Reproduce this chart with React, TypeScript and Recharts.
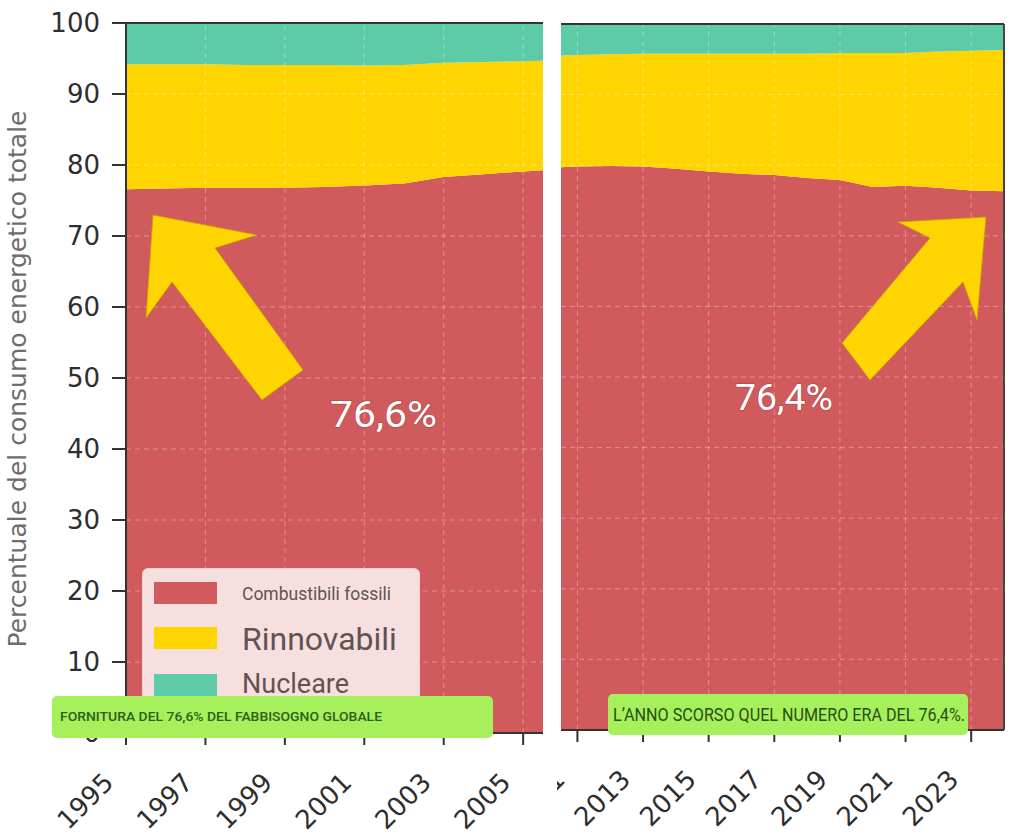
import React from 'react';
import { AreaChart, Area, XAxis, YAxis, ReferenceLine, Legend } from 'recharts';

// Quota del consumo energetico totale (%), per anno
const earlyYears = [1995, 1996, 1997, 1998, 1999, 2000, 2001, 2002, 2003, 2004, 2005, 2006];
const earlyFossil = [76.6, 76.7, 76.8, 76.8, 76.8, 76.9, 77.1, 77.4, 78.3, 78.7, 79.1, 79.4];
const earlyRenewable = [17.6, 17.5, 17.4, 17.3, 17.3, 17.2, 16.9, 16.7, 16.1, 15.8, 15.5, 15.4];
const earlyNuclear = [5.8, 5.8, 5.8, 5.9, 5.9, 5.9, 6.0, 5.9, 5.6, 5.5, 5.4, 5.2];

const lateYears = [2010, 2011, 2012, 2013, 2014, 2015, 2016, 2017, 2018, 2019, 2020, 2021, 2022, 2023, 2024];
const lateFossil = [79.6, 79.8, 79.9, 79.8, 79.5, 79.1, 78.8, 78.6, 78.2, 77.9, 76.9, 77.1, 76.8, 76.4, 76.3];
const lateRenewable = [15.9, 15.8, 15.8, 16.0, 16.3, 16.7, 17.0, 17.2, 17.6, 18.0, 19.0, 18.8, 19.3, 19.8, 20.0];
const lateNuclear = [4.5, 4.4, 4.3, 4.2, 4.2, 4.2, 4.2, 4.2, 4.2, 4.1, 4.1, 4.1, 3.9, 3.8, 3.7];

const earlyTicks = [1995, 1997, 1999, 2001, 2003, 2005];
const lateTicks = [2011, 2013, 2015, 2017, 2019, 2021, 2023];
const pctTicks = [0, 10, 20, 30, 40, 50, 60, 70, 80, 90, 100];
const gridPct = [10, 20, 30, 40, 50, 60, 70, 80, 90];

const seriesKeys = ['fossil', 'renew', 'nuclear'];
const seriesNames = ['Combustibili fossili', 'Rinnovabili', 'Nucleare'];
const yLabel = 'Percentuale del consumo energetico totale';
const highlightYearLate = 2023;

const COLORS: Record<string, string> = {
  fossil: '#d15a5c',
  renew: '#fed500',
  nuclear: '#5ecba8',
};

const rowsOf = (years: number[], f: number[], r: number[], n: number[]) =>
  years.map((year, i) => ({ year, fossil: f[i], renew: r[i], nuclear: n[i] }));

const earlyRows = rowsOf(earlyYears, earlyFossil, earlyRenewable, earlyNuclear);
const lateRows = rowsOf(lateYears, lateFossil, lateRenewable, lateNuclear);

const fmtPct = (v: number) => `${v.toFixed(1).replace('.', ',')}%`;
const firstShare = fmtPct(earlyFossil[0]);
const lastShare = fmtPct(lateFossil[lateYears.indexOf(highlightYearLate)]);

const AXIS = '#333';
const GRID = 'rgba(255,255,255,0.33)';

const YearTick = (props: any) => {
  const { x, y, payload } = props;
  const ax = x - 11;
  const ay = y + 37;
  return (
    <text
      x={ax}
      y={ay}
      transform={`rotate(-45 ${ax} ${ay})`}
      textAnchor="end"
      fontFamily="DejaVu Sans"
      fontSize={26}
      fill="#2e2e2e"
    >
      {payload.value}
    </text>
  );
};

// legend rows: swatch top, text baseline, font size
const legendRows = [
  { top: 13, base: 31, size: 17.5 },
  { top: 58, base: 81, size: 32 },
  { top: 105, base: 124, size: 27 },
];

const LegendBox = (props: any) => {
  const payload = [...(props.payload || [])].sort(
    (a: any, b: any) => seriesKeys.indexOf(String(a.dataKey)) - seriesKeys.indexOf(String(b.dataKey)),
  );
  return (
    <div
      style={{
        width: 278,
        height: 140,
        background: '#f7dfdf',
        borderRadius: 6,
        border: '1px solid #f3d2d2',
        boxSizing: 'border-box',
      }}
    >
      <svg width={278} height={140} style={{ display: 'block' }}>
        {payload.map((entry: any, i: number) => {
          const row = legendRows[i] || legendRows[legendRows.length - 1];
          return (
            <g key={String(entry.dataKey)}>
              <rect x={11} y={row.top} width={63} height={22} fill={COLORS[entry.dataKey] || entry.color} />
              <text x={99} y={row.base} fontFamily="Roboto" fontSize={row.size} fill="#625252">
                {entry.value}
              </text>
            </g>
          );
        })}
      </svg>
    </div>
  );
};

const seriesAreas = () =>
  seriesKeys.map((key, i) => (
    <Area
      key={key}
      dataKey={key}
      name={seriesNames[i]}
      stackId="mix"
      type="linear"
      fill={COLORS[key]}
      fillOpacity={1}
      stroke="none"
      isAnimationActive={false}
      activeDot={false}
    />
  ));

const gridLines = (xs: number[]) => [
  ...xs.map((v) => (
    <ReferenceLine key={`gx${v}`} x={v} stroke={GRID} strokeDasharray="5 4" strokeWidth={1} />
  )),
  ...gridPct.map((v) => (
    <ReferenceLine key={`gy${v}`} y={v} stroke={GRID} strokeDasharray="5 4" strokeWidth={1} />
  )),
];

function EarlyPanel() {
  return (
    <AreaChart width={560} height={835} data={earlyRows} margin={{ top: 23, right: 17, bottom: 0, left: 0 }}>
      <XAxis
        dataKey="year"
        type="number"
        domain={[1995, 2005.5]}
        allowDataOverflow
        ticks={earlyTicks}
        interval={0}
        tick={<YearTick />}
        tickSize={12}
        tickLine={{ stroke: AXIS, strokeWidth: 2 }}
        axisLine={{ stroke: AXIS, strokeWidth: 2 }}
        height={102}
      />
      <YAxis
        type="number"
        domain={[0, 100]}
        allowDataOverflow
        ticks={pctTicks}
        interval={0}
        width={126}
        tickSize={14}
        tickMargin={12}
        tick={{ fontFamily: 'DejaVu Sans', fontSize: 26, fill: '#2e2e2e' }}
        tickLine={{ stroke: AXIS, strokeWidth: 2 }}
        axisLine={{ stroke: AXIS, strokeWidth: 2 }}
      />
      {seriesAreas()}
      {gridLines(earlyTicks.slice(1))}
      <ReferenceLine y={100} stroke={AXIS} strokeWidth={2} />
      <Legend
        layout="horizontal"
        verticalAlign="middle"
        align="center"
        content={<LegendBox />}
        wrapperStyle={{ position: 'absolute', left: 142, top: 568, width: 278, height: 140, margin: 0, padding: 0 }}
      />
    </AreaChart>
  );
}

function LatePanel() {
  return (
    <AreaChart width={517} height={835} data={lateRows} margin={{ top: 24, right: 9, bottom: 0, left: 65 }}>
      <XAxis
        dataKey="year"
        type="number"
        domain={[2010.5, 2024]}
        allowDataOverflow
        ticks={lateTicks}
        interval={0}
        tick={<YearTick />}
        tickSize={12}
        tickLine={{ stroke: AXIS, strokeWidth: 2 }}
        axisLine={{ stroke: AXIS, strokeWidth: 2 }}
        height={105}
      />
      <YAxis hide type="number" domain={[0, 100]} allowDataOverflow />
      {seriesAreas()}
      {gridLines(lateTicks)}
      <ReferenceLine y={100} stroke={AXIS} strokeWidth={2} />
      <ReferenceLine x={2024} stroke="#444" strokeWidth={2} />
    </AreaChart>
  );
}

function Annotations() {
  const arrowFill = '#fed500';
  return (
    <svg
      width={1013}
      height={835}
      style={{ position: 'absolute', left: 0, top: 0, pointerEvents: 'none' }}
    >
      <text
        x={26}
        y={379}
        transform="rotate(-90 26 379)"
        textAnchor="middle"
        fontFamily="DejaVu Sans"
        fontSize={25}
        fill="#6d6d6d"
      >
        {yLabel}
      </text>

      <polygon
        points="153,215 257,235 215,248 303,370 262,400 172,282 146,318"
        fill={arrowFill}
        stroke="#c9a200"
        strokeWidth={0.8}
        strokeLinejoin="miter"
      />
      <polygon
        points="986,217 898,222 930,238 842,343 870,380 963,282 977,320"
        fill={arrowFill}
        stroke="#c9a200"
        strokeWidth={0.8}
        strokeLinejoin="miter"
      />

      <text
        x={330}
        y={427}
        fontFamily="Roboto"
        fontSize={37}
        fill="#ffffff"
        textLength={107}
        lengthAdjust="spacingAndGlyphs"
        stroke="rgba(110,30,30,0.3)"
        strokeWidth={1.5}
        style={{ paintOrder: 'stroke' }}
      >
        {firstShare}
      </text>
      <text
        x={735}
        y={410}
        fontFamily="Roboto"
        fontSize={37}
        fill="#ffffff"
        textLength={98}
        lengthAdjust="spacingAndGlyphs"
        stroke="rgba(110,30,30,0.3)"
        strokeWidth={1.5}
        style={{ paintOrder: 'stroke' }}
      >
        {lastShare}
      </text>

      <rect x={52} y={696} width={441} height={42} rx={5} fill="#a6f05c" />
      <text
        x={60}
        y={721}
        fontFamily="Roboto"
        fontWeight={500}
        fontSize={13}
        fill="#2f5e16"
        textLength={322}
        lengthAdjust="spacingAndGlyphs"
      >
        {`FORNITURA DEL ${firstShare} DEL FABBISOGNO GLOBALE`}
      </text>

      <rect x={608} y={694} width={360} height={41} rx={5} fill="#a6f05c" />
      <text
        x={613}
        y={721}
        fontFamily="Roboto"
        fontSize={19}
        fill="#2a4d14"
        textLength={352}
        lengthAdjust="spacingAndGlyphs"
      >
        {`L’ANNO SCORSO QUEL NUMERO ERA DEL ${lastShare}.`}
      </text>
    </svg>
  );
}

export default function App() {
  return (
    <div style={{ position: 'absolute', left: 0, top: 0, width: 1013, height: 835, background: '#ffffff', overflow: 'hidden' }}>
      <div style={{ position: 'absolute', left: 0, top: 0 }}>
        <EarlyPanel />
      </div>
      <div style={{ position: 'absolute', left: 557, top: 0, width: 456, height: 835, overflow: 'hidden' }}>
        <div style={{ position: 'absolute', left: -61, top: 0 }}>
          <LatePanel />
        </div>
      </div>
      <Annotations />
    </div>
  );
}
